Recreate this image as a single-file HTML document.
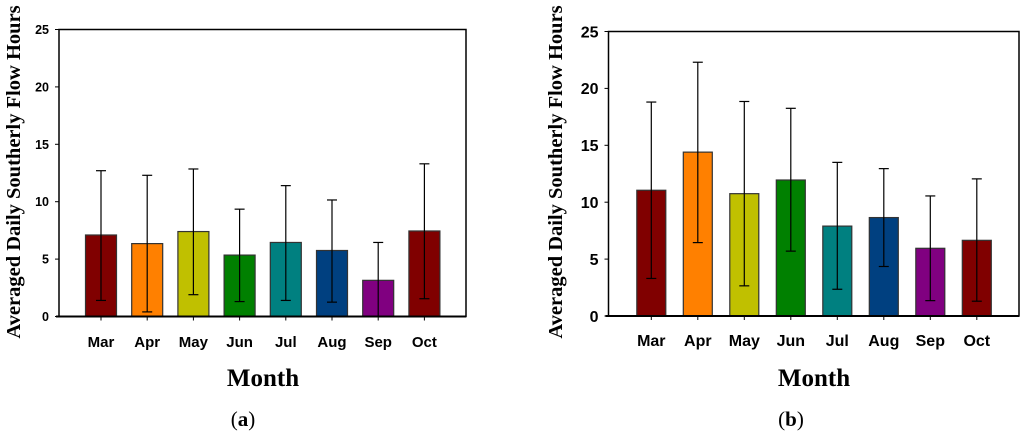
<!DOCTYPE html>
<html><head><meta charset="utf-8"><style>
html,body{margin:0;padding:0;background:#fff;}
svg{display:block;}
</style></head><body>
<svg id="chart" width="1024" height="435" viewBox="0 0 1024 435" xmlns="http://www.w3.org/2000/svg"></svg>
<script>
const months = ["Mar","Apr","May","Jun","Jul","Aug","Sep","Oct"];
const colors = ["#800000","#ff8000","#c0c000","#008000","#008080","#004080","#800080","#800000"];
const yTicks = [0,5,10,15,20,25];
const meanA = [7.1,6.35,7.4,5.35,6.45,5.75,3.15,7.45];
const lowA  = [1.4,0.4,1.9,1.3,1.4,1.25,-0.2,1.55];
const highA = [12.7,12.3,12.85,9.35,11.4,10.15,6.45,13.3];
const meanB = [11.05,14.4,10.75,11.95,7.9,8.65,5.95,6.65];
const lowB  = [3.3,6.45,2.65,5.7,2.35,4.35,1.35,1.3];
const highB = [18.8,22.3,18.85,18.25,13.5,12.95,10.55,12.05];

const NS="http://www.w3.org/2000/svg";
const svg=document.getElementById('chart');
function mk(tag,attrs,parent){const e=document.createElementNS(NS,tag);for(const k in attrs)e.setAttribute(k,attrs[k]);(parent||svg).appendChild(e);return e;}

function drawPanel(p){
  const g=mk('g',{});
  
  
  const y=v=>p.y0-(Math.max(v,0)/25)*(p.y0-p.y25);
  const x=i=>p.first+p.step*i;
  months.forEach((m,i)=>{
    const r=mk('rect',{x:x(i)-p.bw/2,y:y(p.mean[i]),width:p.bw,height:y(0)-y(p.mean[i]),fill:colors[i],stroke:'#333',"stroke-width":1.2},g);
    
    
  });
  months.forEach((m,i)=>{
    const eg=mk('g',{stroke:'#000',"stroke-width":1.2},g);
    
    
    const xc=x(i);
    mk('line',{x1:xc,x2:xc,y1:y(p.low[i]),y2:y(p.high[i])},eg);
    mk('line',{x1:xc-5,x2:xc+5,y1:y(p.high[i]),y2:y(p.high[i])},eg);
    if(p.low[i]>0) mk('line',{x1:xc-5,x2:xc+5,y1:y(p.low[i]),y2:y(p.low[i])},eg);
  });
  const fr=mk('rect',{x:p.x0,y:p.y25,width:p.x1-p.x0,height:p.y0-p.y25,fill:'none',stroke:'#000',"stroke-width":1.5},g);
  
  
  mk('line',{x1:p.x0-3,x2:p.x1,y1:p.y0,y2:p.y0,stroke:'#000',"stroke-width":2},g);
  yTicks.forEach(t=>{
    mk('line',{x1:p.x0-4,x2:p.x0,y1:y(t),y2:y(t),stroke:'#000',"stroke-width":1},g);
    const tx=mk('text',{x:p.x0-10,y:y(t)+p.yfs*0.36,"text-anchor":"end","font-family":"Liberation Sans, sans-serif","font-weight":"bold","font-size":p.yfs},g);
    tx.textContent=t;
    
    
  });
  months.forEach((m,i)=>{
    mk('line',{x1:x(i),x2:x(i),y1:p.y0,y2:p.y0+4,stroke:'#000',"stroke-width":1},g);
    const tx=mk('text',{x:x(i),y:p.xly,"text-anchor":"middle","font-family":"Liberation Sans, sans-serif","font-weight":"bold","font-size":p.xfs},g);
    tx.textContent=m;
    
    
  });
  const yt=mk('text',{x:0,y:0,transform:`translate(${p.ytx},172) rotate(-90)`,"text-anchor":"middle","font-family":"Liberation Serif, serif","font-weight":"bold","font-size":20.5},g);
  yt.textContent='Averaged Daily Southerly Flow Hours';
  
  
  const xt=mk('text',{x:p.mx,y:386,"text-anchor":"middle","font-family":"Liberation Serif, serif","font-weight":"bold","font-size":25},g);
  xt.textContent='Month';
  
  
  const pl=mk('text',{x:p.lx,y:426,"text-anchor":"middle","font-family":"Liberation Serif, serif","font-size":21},g);
  pl.innerHTML='(<tspan font-weight="bold">'+p.letter+'</tspan>)';
  
  
}
drawPanel({name:'panel-a',x0:59,x1:466,y0:316.5,y25:29.5,first:101,step:46.2,bw:31,mean:meanA,low:lowA,high:highA,yfs:12.5,xfs:15,xly:347,ytx:20,mx:263,lx:243,letter:'a'});
drawPanel({name:'panel-b',x0:608.5,x1:1019,y0:316,y25:31.5,first:651.3,step:46.5,bw:29,mean:meanB,low:lowB,high:highB,yfs:16,xfs:16,xly:346,ytx:562,mx:814,lx:791,letter:'b'});
</script>
</body></html>
